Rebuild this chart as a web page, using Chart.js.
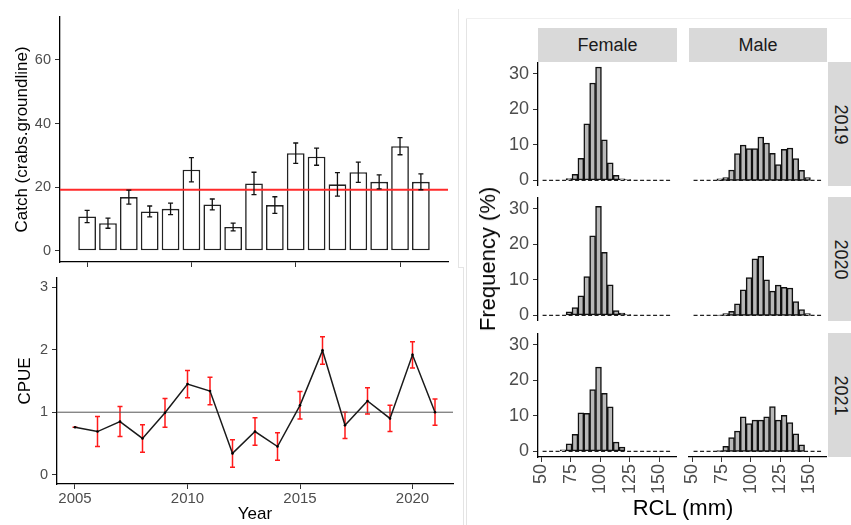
<!DOCTYPE html>
<html>
<head>
<meta charset="utf-8">
<script src="https://cdn.jsdelivr.net/npm/chart.js@4.4.1/dist/chart.umd.min.js"></script>
<style>
  body { margin: 0; width: 851px; height: 525px; overflow: hidden; background: #fff;
         font-family: "Liberation Sans", Arial, sans-serif; position: relative; }
  canvas { position: absolute; }
  .strip { position: absolute; background: #d9d9d9; color: #1a1a1a; font-size: 18px;
           display: flex; align-items: center; justify-content: center; }
  .strip.side span { transform: rotate(90deg); display: block; white-space: nowrap; }
  .lbl { position: absolute; color: #000; font-size: 22px; white-space: nowrap; }
  .frame { position: absolute; background: #e4e4e4; }
</style>
</head>
<body>
<div class="frame" style="left:458px;top:9px;width:1px;height:258px"></div>
<div class="frame" style="left:458px;top:267px;width:6px;height:1px"></div>
<div class="frame" style="left:463px;top:267px;width:1px;height:258px"></div>
<div class="frame" style="left:466px;top:18px;width:1px;height:507px"></div>
<div class="frame" style="left:466px;top:18px;width:385px;height:1px;background:#f0f0f0"></div>

<canvas id="catch" width="460" height="270" style="left:0;top:0"></canvas>
<canvas id="cpue" width="460" height="260" style="left:0;top:265px"></canvas>

<div class="strip" style="left:538px;top:28px;width:139px;height:34px">Female</div>
<div class="strip" style="left:689px;top:28px;width:138px;height:34px">Male</div>
<div class="strip side" style="left:828px;top:62px;width:24px;height:124px"><span>2019</span></div>
<div class="strip side" style="left:828px;top:197px;width:24px;height:124px"><span>2020</span></div>
<div class="strip side" style="left:828px;top:333px;width:24px;height:124px"><span>2021</span></div>

<canvas id="f2019" width="187" height="124" style="left:490px;top:62px"></canvas>
<canvas id="m2019" width="148" height="124" style="left:679px;top:62px"></canvas>
<canvas id="f2020" width="187" height="124" style="left:490px;top:197px"></canvas>
<canvas id="m2020" width="148" height="124" style="left:679px;top:197px"></canvas>
<canvas id="f2021" width="187" height="169" style="left:490px;top:333px"></canvas>
<canvas id="m2021" width="148" height="169" style="left:679px;top:333px"></canvas>

<div class="lbl" style="left:488px;top:259px;transform:translate(-50%,-50%) rotate(-90deg)">Frequency (%)</div>
<div class="lbl" style="left:683px;top:508px;transform:translate(-50%,-50%)">RCL (mm)</div>

<script>
// catch per groundline and CPUE by year
const years = [2005, 2006, 2007, 2008, 2009, 2010, 2011, 2012, 2013, 2014, 2015, 2016, 2017, 2018, 2019, 2020, 2021];
const catchMean = [10.8, 8.7, 16.9, 12.4, 13.2, 25.5, 14.6, 7.5, 21.2, 14.4, 30.7, 29.6, 20.9, 24.7, 21.7, 32.9, 21.7];
const catchErr = [1.9, 1.6, 2.2, 1.7, 1.8, 3.8, 1.7, 1.2, 3.5, 2.6, 3.2, 2.7, 3.7, 3.2, 2.2, 2.7, 2.5];
const catchRef = 19.2;
const cpue = [0.76, 0.69, 0.85, 0.58, 0.99, 1.45, 1.34, 0.34, 0.69, 0.45, 1.11, 1.99, 0.79, 1.18, 0.90, 1.92, 1.00];
const cpueErr = [0, 0.24, 0.24, 0.22, 0.23, 0.22, 0.22, 0.22, 0.22, 0.22, 0.22, 0.22, 0.21, 0.21, 0.21, 0.21, 0.21];
const cpueRef = 1;
const yearTicks = [2005, 2010, 2015, 2020];
const catchTicks = [0, 20, 40, 60];
const cpueTicks = [0, 1, 2, 3];

// length-frequency histograms, 5 mm bins (centres)
const binCentres = [53.5, 58.5, 63.5, 68.5, 73.5, 78.5, 83.5, 88.5, 93.5, 98.5, 103.5,
                    108.5, 113.5, 118.5, 123.5, 128.5, 133.5, 138.5, 143.5, 148.5, 153.5, 158.5];
const female2019 = [0, 0, 0, 0, 0.5, 1.7, 6.2, 15.9, 27.4, 31.9, 11.4, 4.9, 1.4, 0.4, 0.2, 0, 0, 0, 0, 0, 0, 0];
const male2019 = [0, 0, 0, 0, 0.4, 0.8, 2.9, 7.5, 9.9, 8.9, 8.9, 12.2, 10.5, 7.6, 4.4, 8.7, 9.1, 6.1, 2.8, 0.8, 0, 0];
const female2020 = [0, 0, 0, 0, 1.0, 2.2, 5.5, 10.9, 22.4, 30.7, 17.7, 8.6, 1.3, 0.6, 0.2, 0, 0, 0, 0, 0, 0, 0];
const male2020 = [0, 0, 0, 0, 0.1, 0.5, 1.1, 3.2, 7.2, 10.6, 15.9, 16.6, 10.0, 6.8, 8.5, 7.9, 7.7, 3.9, 1.6, 0.5, 0, 0];
const female2021 = [0, 0, 0, 0.4, 2.1, 4.8, 10.8, 10.7, 17.4, 23.7, 16.3, 12.5, 2.6, 1.2, 0, 0, 0, 0, 0, 0, 0, 0];
const male2021 = [0, 0, 0, 0, 0.2, 1.4, 3.9, 5.7, 9.7, 7.8, 8.8, 8.8, 9.7, 12.6, 8.8, 10.1, 8.1, 4.9, 1.8, 0, 0, 0];
const rclTicks = [50, 75, 100, 125, 150];
const freqTicks = [0, 10, 20, 30];
const baseRange = [51, 161];

const FONT = '"Liberation Sans", Arial, sans-serif';
const GREY = '#4d4d4d';

// error bars drawn through the chart scales
function drawErrors(chart) {
  const ctx = chart.ctx;
  const xs = chart.scales.x, ys = chart.scales.y;
  chart.data.datasets.forEach(ds => {
    if (!ds.errors) return;
    ctx.save();
    ctx.strokeStyle = ds.errorColor;
    ctx.lineWidth = ds.errorWidth;
    ds.data.forEach((p, i) => {
      const e = ds.errors[i];
      const x = xs.getPixelForValue(p.x);
      const y1 = ys.getPixelForValue(p.y - e);
      const y2 = ys.getPixelForValue(p.y + e);
      const c = ds.capHalf;
      ctx.beginPath();
      ctx.moveTo(x, y1); ctx.lineTo(x, y2);
      ctx.moveTo(x - c, y1); ctx.lineTo(x + c, y1);
      ctx.moveTo(x - c, y2); ctx.lineTo(x + c, y2);
      ctx.stroke();
    });
    ctx.restore();
  });
}
const errorBars = {
  id: 'errorBars',
  beforeDatasetsDraw(chart, args, opts) { if (opts.layer === 'below') drawErrors(chart); },
  afterDatasetsDraw(chart, args, opts) { if (opts.layer !== 'below') drawErrors(chart); }
};

function fixed(ticks) {
  return s => { s.ticks = ticks.map(v => ({ value: v })); };
}

function axisY(min, max, ticks, width, size, title) {
  return {
    type: 'linear', min: min, max: max,
    afterBuildTicks: fixed(ticks),
    afterFit: s => { s.width = width; s.paddingTop = 0; s.paddingBottom = 0; },
    grid: { drawOnChartArea: false, tickLength: 5, color: '#333', lineWidth: 1 },
    border: { color: '#000', width: 1.3 },
    ticks: { color: GREY, font: { family: FONT, size: size }, padding: 4 },
    title: title
  };
}

function axisX(min, max, ticks, height, opts) {
  return Object.assign({
    type: 'linear', min: min, max: max, offset: false,
    afterBuildTicks: fixed(ticks),
    afterFit: s => { s.height = height; s.paddingLeft = 0; s.paddingRight = 0; },
    grid: { drawOnChartArea: false, tickLength: 5, color: '#333', lineWidth: 1, offset: false },
    border: { color: '#000', width: 1.3 },
    ticks: { color: GREY, font: { family: FONT, size: 15 }, padding: 1, autoSkip: false,
             maxRotation: 0, callback: v => String(v) }
  }, opts || {});
}

const basePlugins = { legend: { display: false }, tooltip: { enabled: false } };

// top left: catch
new Chart(document.getElementById('catch'), {
  type: 'bar',
  data: {
    datasets: [
      {
        type: 'line', order: 0,
        data: [{ x: 2003.7, y: catchRef }, { x: 2022.3, y: catchRef }],
        borderColor: '#ff2a2a', borderWidth: 1.8, pointRadius: 0
      },
      {
        order: 1,
        data: years.map((y, i) => ({ x: y, y: catchMean[i] })),
        backgroundColor: '#ffffff', borderColor: '#222', borderWidth: 1.6, borderSkipped: false,
        barPercentage: 0.85, categoryPercentage: 1,
        errors: catchErr, errorColor: '#111', errorWidth: 1.3, capHalf: 2.5
      }
    ]
  },
  options: {
    responsive: false, animation: false, devicePixelRatio: 1,
    layout: { padding: { top: 17, right: 12, left: 0, bottom: 0 } },
    plugins: Object.assign({ errorBars: { layer: 'above' } }, basePlugins),
    scales: {
      x: axisX(2003.7, 2022.3, yearTicks, 8, { ticks: { display: false } }),
      y: axisY(-3.5, 73.5, catchTicks, 60, 14.5, {
        display: true, text: 'Catch (crabs.groundline)', color: '#000',
        font: { family: FONT, size: 17 }, padding: { top: 12, bottom: 0 }
      })
    }
  },
  plugins: [errorBars]
});

// bottom left: CPUE
new Chart(document.getElementById('cpue'), {
  type: 'line',
  data: {
    datasets: [
      {
        order: 0,
        data: years.map((y, i) => ({ x: y, y: cpue[i] })),
        borderColor: '#1a1a1a', borderWidth: 1.5, pointRadius: 1.3,
        pointBackgroundColor: '#000', pointBorderWidth: 0, tension: 0,
        errors: cpueErr, errorColor: '#ff1a1a', errorWidth: 1.5, capHalf: 2.5
      },
      {
        order: 1,
        data: [{ x: 2004.2, y: cpueRef }, { x: 2021.8, y: cpueRef }],
        borderColor: '#555', borderWidth: 1, pointRadius: 0
      }
    ]
  },
  options: {
    responsive: false, animation: false, devicePixelRatio: 1,
    layout: { padding: { top: 13, right: 7, left: 0, bottom: 0 } },
    plugins: Object.assign({ errorBars: { layer: 'below' } }, basePlugins),
    scales: {
      x: axisX(2004.2, 2021.8, yearTicks, 41, {
        title: { display: true, text: 'Year', color: '#000', font: { family: FONT, size: 17 },
                 padding: { top: 0, bottom: 0 } }
      }),
      y: axisY(-0.15, 3.15, cpueTicks, 57, 14.5, {
        display: true, text: 'CPUE', color: '#000',
        font: { family: FONT, size: 17 }, padding: { top: 15, bottom: 0 }
      })
    }
  },
  plugins: [errorBars]
});

// right: histograms
function histogram(id, values, showY, showX) {
  const x = axisX(47.1, 165.2, rclTicks, showX ? 45 : 0, { display: showX });
  x.ticks = { color: GREY, font: { family: FONT, size: 18 }, padding: 2, autoSkip: false,
              minRotation: 90, maxRotation: 90, callback: v => String(v) };
  const y = axisY(-1.6, 33.3, freqTicks, showY ? 48 : 0, 18);
  y.display = showY;
  new Chart(document.getElementById(id), {
    type: 'bar',
    data: {
      datasets: [
        {
          order: 0,
          data: binCentres.map((c, i) => ({ x: c, y: values[i] > 0 ? values[i] : null })),
          backgroundColor: '#b8b8b8', borderColor: '#111', borderWidth: 1.5, borderSkipped: false,
          barPercentage: 1, categoryPercentage: 1
        },
        {
          type: 'line', order: 1,
          data: [{ x: baseRange[0], y: 0 }, { x: baseRange[1], y: 0 }],
          borderColor: '#222', borderWidth: 1.2, borderDash: [4, 2.5], pointRadius: 0
        }
      ]
    },
    options: {
      responsive: false, animation: false, devicePixelRatio: 1,
      layout: { padding: { left: showY ? 0 : 10, right: 0, top: 0, bottom: 0 } },
      plugins: basePlugins,
      scales: { x: x, y: y }
    }
  });
}

histogram('f2019', female2019, true, false);
histogram('m2019', male2019, false, false);
histogram('f2020', female2020, true, false);
histogram('m2020', male2020, false, false);
histogram('f2021', female2021, true, true);
histogram('m2021', male2021, false, true);
</script>
</body>
</html>
